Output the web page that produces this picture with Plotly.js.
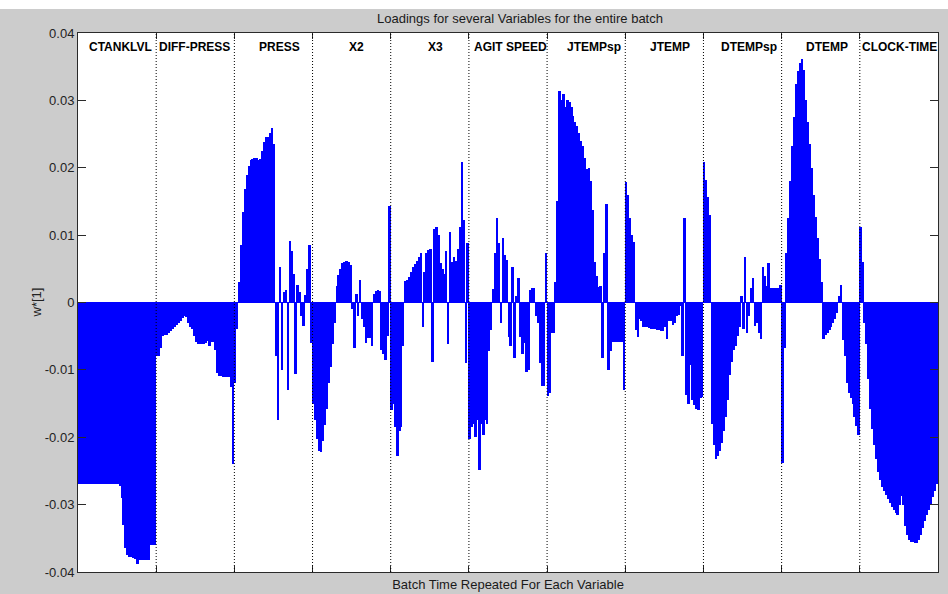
<!DOCTYPE html>
<html>
<head>
<meta charset="utf-8">
<script src="https://cdn.plot.ly/plotly-3.0.1.min.js"></script>
<style>
  html, body { margin: 0; padding: 0; background: #cccccc; }
  #chart { width: 948px; height: 594px; }
  /* snap bar edges to whole pixels so adjacent bars meet cleanly */
  #chart .trace.bars path { shape-rendering: crispEdges !important; }
</style>
</head>
<body>
<div id="chart"></div>
<script>
// Variable names, one block of batch-time samples per variable
const varNames = ['CTANKLVL', 'DIFF-PRESS', 'PRESS', 'X2', 'X3', 'AGIT SPEED',
                  'JTEMPsp', 'JTEMP', 'DTEMPsp', 'DTEMP', 'CLOCK-TIME'];

// First-component loadings w*[1] over the batch time, per variable
const ctanklvl = [
  -0.0269, -0.0269, -0.0269, -0.0269, -0.0269, -0.0269, -0.0269, -0.0269, -0.0269, -0.0269,
  -0.0269, -0.0269, -0.0269, -0.0269, -0.0269, -0.0269, -0.0269, -0.0269, -0.0269, -0.0269,
  -0.0269, -0.0272, -0.0290, -0.0330, -0.0365, -0.0375, -0.0377, -0.0378, -0.0379, -0.0381,
  -0.0388, -0.0382, -0.0382, -0.0382, -0.0382, -0.0382, -0.0382, -0.0360, -0.0360, -0.0360
];
const diffPress = [
  -0.0080, -0.0079, -0.0068, -0.0049, -0.0048, -0.0048, -0.0045, -0.0042, -0.0039, -0.0036,
  -0.0033, -0.0030, -0.0027, -0.0023, -0.0020, -0.0022, -0.0030, -0.0036, -0.0040, -0.0050,
  -0.0058, -0.0061, -0.0061, -0.0061, -0.0061, -0.0060, -0.0057, -0.0064, -0.0059, -0.0058,
  -0.0070, -0.0105, -0.0109, -0.0109, -0.0110, -0.0110, -0.0110, -0.0110, -0.0125, -0.0240
];
const press = [
  -0.0120, -0.0040, 0.0030, 0.0085, 0.0134, 0.0168, 0.0189, 0.0203, 0.0211, 0.0213,
  0.0214, 0.0215, 0.0212, 0.0213, 0.0225, 0.0238, 0.0245, 0.0246, 0.0252, 0.0259,
  0.0235, -0.0080, -0.0175, 0.0053, -0.0100, 0.0015, 0.0019, -0.0130, 0.0092, 0.0077,
  0.0042, -0.0106, 0.0026, 0.0015, -0.0020, -0.0035, 0.0011, 0.0050, 0.0086, -0.0060
];
const x2 = [
  -0.0150, -0.0175, -0.0203, -0.0220, -0.0222, -0.0205, -0.0182, -0.0158, -0.0120, -0.0095,
  -0.0062, -0.0030, 0.0025, 0.0041, 0.0050, 0.0058, 0.0060, 0.0062, 0.0060, 0.0056,
  -0.0010, -0.0067, 0.0013, -0.0020, 0.0034, -0.0025, -0.0036, -0.0060, -0.0053, -0.0052,
  -0.0064, 0.0013, 0.0017, 0.0018, 0.0017, -0.0070, -0.0077, -0.0085, -0.0050, 0.0143
];
const x3 = [
  -0.0160, -0.0150, -0.0185, -0.0228, -0.0190, -0.0185, -0.0065, 0.0032, 0.0034, 0.0038,
  0.0046, 0.0052, 0.0057, 0.0062, 0.0068, 0.0073, -0.0036, 0.0045, 0.0073, 0.0078,
  0.0080, -0.0088, 0.0109, 0.0112, 0.0100, 0.0058, 0.0050, 0.0042, 0.0076, -0.0062,
  0.0104, 0.0060, 0.0068, 0.0062, 0.0080, 0.0112, 0.0208, 0.0122, -0.0090, 0.0089
];
const agitSpeed = [
  -0.0202, -0.0185, -0.0180, -0.0200, -0.0175, -0.0248, -0.0180, -0.0196, -0.0175, -0.0180,
  -0.0072, -0.0041, 0.0020, 0.0073, 0.0125, 0.0089, -0.0030, 0.0096, 0.0070, 0.0063,
  -0.0051, -0.0064, 0.0052, -0.0082, 0.0010, 0.0037, -0.0051, -0.0077, -0.0060, -0.0103,
  -0.0100, 0.0019, 0.0021, 0.0021, -0.0020, -0.0030, -0.0090, -0.0124, -0.0124, 0.0073
];
const jtempSp = [
  -0.0139, -0.0134, -0.0045, -0.0046, 0.0030, 0.0150, 0.0314, 0.0300, 0.0310, 0.0290,
  0.0300, 0.0298, 0.0290, 0.0277, 0.0268, 0.0262, 0.0252, 0.0240, 0.0232, 0.0215,
  0.0198, 0.0200, 0.0180, 0.0138, 0.0060, 0.0040, 0.0023, 0.0024, -0.0082, 0.0073,
  0.0146, -0.0100, -0.0072, -0.0059, -0.0059, -0.0059, -0.0059, -0.0059, -0.0059, -0.0130
];
const jtemp = [
  0.0179, 0.0160, 0.0125, 0.0100, 0.0090, -0.0041, -0.0051, -0.0025, -0.0028, -0.0036,
  -0.0036, -0.0037, -0.0038, -0.0039, -0.0040, -0.0040, -0.0041, -0.0041, -0.0042, -0.0043,
  -0.0036, -0.0054, -0.0028, -0.0027, -0.0033, -0.0030, -0.0020, -0.0018, -0.0005, -0.0080,
  0.0125, -0.0137, -0.0150, -0.0093, -0.0145, -0.0152, -0.0158, -0.0160, -0.0142, -0.0140
];
const dtempSp = [
  0.0208, 0.0182, 0.0156, 0.0130, -0.0181, -0.0212, -0.0233, -0.0228, -0.0220, -0.0209,
  -0.0190, -0.0170, -0.0145, -0.0108, -0.0088, -0.0070, -0.0064, -0.0049, -0.0036, 0.0010,
  -0.0040, 0.0068, -0.0046, -0.0020, 0.0021, 0.0037, -0.0035, -0.0030, -0.0046, -0.0054,
  0.0052, 0.0040, 0.0024, 0.0058, 0.0022, 0.0022, 0.0022, 0.0022, 0.0022, 0.0026
];
const dtemp = [
  -0.0238, -0.0067, 0.0073, 0.0125, 0.0180, 0.0232, 0.0275, 0.0325, 0.0343, 0.0356,
  0.0362, 0.0345, 0.0300, 0.0268, 0.0236, 0.0200, 0.0160, 0.0127, 0.0095, 0.0065,
  0.0030, -0.0054, -0.0048, -0.0045, -0.0041, -0.0036, -0.0031, -0.0025, -0.0015, 0.0010,
  0.0026, -0.0055, -0.0080, -0.0120, -0.0135, -0.0142, -0.0150, -0.0170, -0.0183, -0.0196
];
const clockTime = [
  0.0112, 0.0060, -0.0030, -0.0062, -0.0113, -0.0158, -0.0188, -0.0212, -0.0233, -0.0251,
  -0.0264, -0.0274, -0.0280, -0.0286, -0.0292, -0.0298, -0.0303, -0.0308, -0.0312, -0.0316,
  -0.0300, -0.0287, -0.0300, -0.0331, -0.0345, -0.0353, -0.0355, -0.0356, -0.0357, -0.0357,
  -0.0352, -0.0345, -0.0335, -0.0325, -0.0316, -0.0308, -0.0300, -0.0289, -0.0280, -0.0270
];

// Y-axis ticks
const yTickVals = [-0.04, -0.03, -0.02, -0.01, 0, 0.01, 0.02, 0.03, 0.04];
const yTickText = ['-0.04', '-0.03', '-0.02', '-0.01', '0', '0.01', '0.02', '0.03', '0.04'];

// ---- assemble the unfolded series (batch time repeated for each variable) ----
const blocks = [ctanklvl, diffPress, press, x2, x3, agitSpeed, jtempSp, jtemp, dtempSp, dtemp, clockTime];
const xs = [], ys = [];
const edges = [0.5];
const centers = [];
let k = 0;
blocks.forEach(b => {
  const start = k + 0.5;
  b.forEach(v => { k += 1; xs.push(k); ys.push(v); });
  edges.push(k + 0.5);
  centers.push((start + k + 0.5) / 2);
});
const total = k;

const FONT = 'Liberation Sans, Arial, Helvetica, sans-serif';
const AXIS = '#2a2a2a';

const shapes = [
  // white strip along the top of the window
  { type: 'rect', xref: 'paper', yref: 'paper', x0: -0.2, x1: 1.2,
    y0: 1 + 24 / 539, y1: 1.2, fillcolor: '#ffffff', line: { width: 0 }, layer: 'below' }
];
// dotted separators between variables
edges.slice(1, -1).forEach(e => {
  shapes.push({ type: 'line', xref: 'x', yref: 'paper', x0: e, x1: e, y0: 0, y1: 1,
                line: { color: '#000000', width: 1, dash: '1px,2px' }, layer: 'above' });
});

// small horizontal nudges so each name sits where it reads best in its block
const labelShift = [3, -1, 6, 5, 6, 2, 8, 6, 6, 6, 1];
const annotations = varNames.map((name, i) => ({
  text: '<b>' + name + '</b>', x: centers[i], xref: 'x', y: 1 - 14.5 / 539, yref: 'paper',
  xanchor: 'center', yanchor: 'middle', xshift: labelShift[i], showarrow: false,
  font: { family: FONT, size: 12, color: '#000000' }
}));
annotations.push({
  text: 'w*[1]', xref: 'paper', x: 0, yref: 'paper', y: 0.5, xshift: -42,
  textangle: -90, xanchor: 'center', yanchor: 'middle', showarrow: false,
  font: { family: FONT, size: 13, color: '#222222' }
});

const trace = {
  type: 'bar', x: xs, y: ys, width: 1,
  marker: { color: '#0000ff', line: { width: 0 } },
  hoverinfo: 'skip'
};

const layout = {
  width: 948, height: 594,
  margin: { l: 78, r: 10, t: 33, b: 22, pad: 0 },
  paper_bgcolor: '#cccccc', plot_bgcolor: '#ffffff',
  font: { family: FONT, size: 13, color: '#222222' },
  showlegend: false, bargap: 0, hovermode: false, dragmode: false,
  title: { text: 'Loadings for several Variables for the entire batch',
           x: 520 / 948, xref: 'container', xanchor: 'center',
           y: 1 - 18 / 594, yref: 'container', yanchor: 'middle',
           font: { family: FONT, size: 13, color: '#1a1a1a' } },
  xaxis: {
    range: [0.5, total + 0.5], tickvals: edges, showticklabels: false,
    ticks: 'inside', ticklen: 6, tickwidth: 1, tickcolor: AXIS,
    showline: true, linecolor: AXIS, linewidth: 1, mirror: 'ticks',
    showgrid: false, zeroline: false, automargin: false, fixedrange: true,
    title: { text: 'Batch Time Repeated For Each Variable', standoff: 7,
             font: { family: FONT, size: 13, color: '#1a1a1a' } }
  },
  yaxis: {
    range: [-0.04, 0.04], tickvals: yTickVals, ticktext: yTickText,
    ticks: 'inside', ticklen: 8, tickwidth: 1, tickcolor: AXIS,
    showline: true, linecolor: AXIS, linewidth: 1, mirror: 'ticks',
    showgrid: false, zeroline: true, zerolinecolor: '#0000ff', zerolinewidth: 1,
    automargin: false, fixedrange: true,
    tickfont: { family: FONT, size: 13, color: '#222222' }
  },
  shapes: shapes,
  annotations: annotations
};

Plotly.newPlot('chart', [trace], layout, { displayModeBar: false, responsive: false });
</script>
</body>
</html>
